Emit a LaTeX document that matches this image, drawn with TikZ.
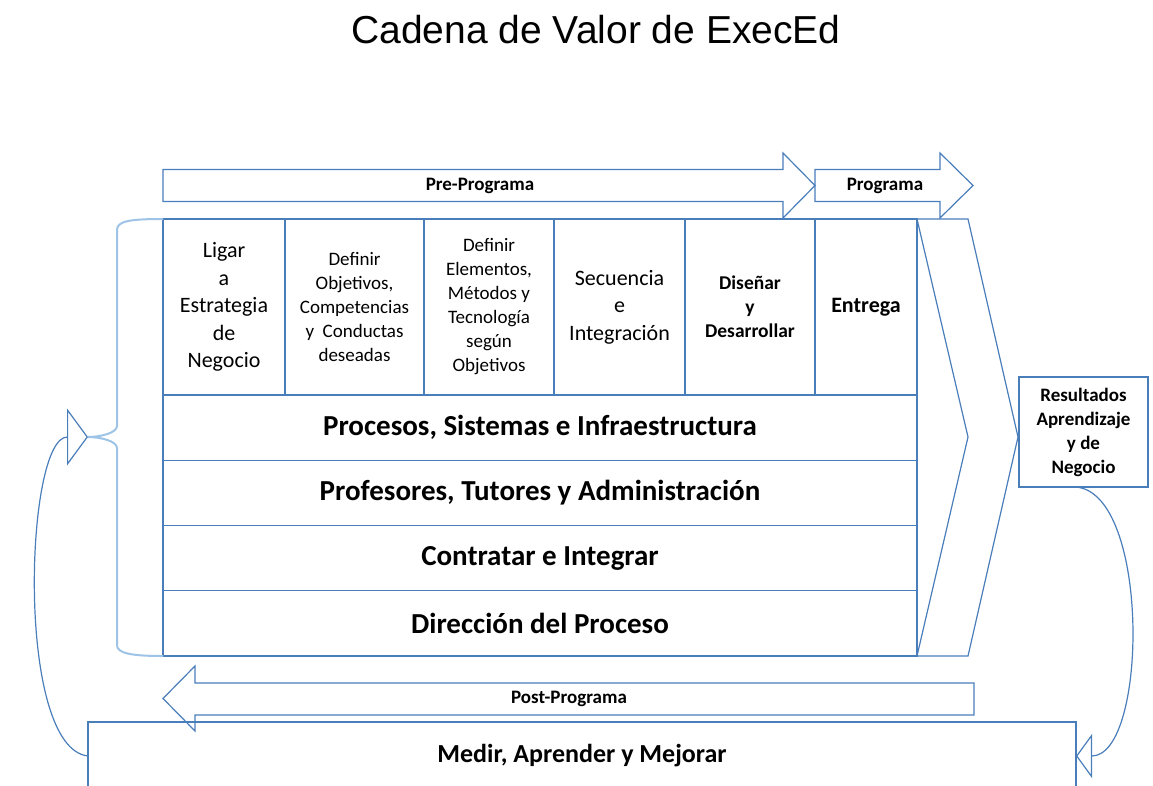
\documentclass[tikz,border=0pt]{standalone}
\usepackage{fontspec}
\setmainfont{Carlito}
\newfontfamily\titlefont{Liberation Sans}
\usetikzlibrary{positioning,arrows.meta}
\definecolor{edgeblue}{HTML}{4A7EBB}
\definecolor{braceblue}{HTML}{9DC3E6}

\begin{document}
\begin{tikzpicture}[x=1pt,y=-1pt,line join=miter,
  every node/.style={inner sep=0pt,outer sep=0pt,align=center},
  cell/.style={draw=edgeblue,line width=1.2pt,minimum height=176pt,anchor=north west},
  band/.style={draw=edgeblue,line width=1.2pt,minimum width=754pt,minimum height=65.25pt,
    font=\bfseries\fontsize{29}{34}\selectfont},
  bigtxt/.style={font=\fontsize{22}{27.5}\selectfont},
  smalltxt/.style={font=\fontsize{19}{24}\selectfont},
  boldtxt/.style={font=\bfseries\fontsize{19.5}{24}\selectfont},
  arrlabel/.style={font=\bfseries\fontsize{19}{23}\selectfont},
  blockarrow/.style={draw=edgeblue,line width=1.2pt},
  frame/.style={draw=edgeblue,line width=1.8pt},
  feedback/.style={draw=edgeblue,line width=1.2pt}]
  \useasboundingbox (0,0) rectangle (1153,785);
  \clip (0,0) rectangle (1153,785);

  % title
  \node[font=\titlefont\fontsize{39}{47}\selectfont] (title) at (596,30) {Cadena de Valor de ExecEd};

  % phase arrows
  \draw[blockarrow] (163,169.5) -- (783,169.5) -- (783,153) -- (815,185.5) -- (783,218)
    -- (783,201.5) -- (163,201.5) -- cycle;
  \draw[blockarrow] (815,169.5) -- (940,169.5) -- (940,153) -- (973,185.5) -- (940,218)
    -- (940,201.5) -- (815,201.5) -- cycle;
  \draw[blockarrow] (974,683) -- (195,683) -- (195,666) -- (163,698.5) -- (195,731)
    -- (195,715) -- (974,715) -- cycle;
  \node[arrlabel] (pre) at (480,185.5) {Pre-Programa};
  \node[arrlabel] (prog) at (885,185.5) {Programa};
  \node[arrlabel] (post) at (569,698.5) {Post-Programa};

  % header cells
  \node[cell,minimum width=122pt,bigtxt] (c1) at (163,219) {Ligar\\a\\Estrategia\\de\\Negocio};
  \node[cell,minimum width=139pt,smalltxt,right=0pt of c1] (c2)
    {Definir\\Objetivos,\\Competencias\\y~ Conductas\\deseadas};
  \node[cell,minimum width=130pt,smalltxt,right=0pt of c2] (c3)
    {Definir\\Elementos,\\Métodos y\\Tecnología\\según\\Objetivos};
  \node[cell,minimum width=131pt,bigtxt,right=0pt of c3] (c4) {Secuencia\\e\\Integración};
  \node[cell,minimum width=130pt,boldtxt,right=0pt of c4] (c5) {Diseñar\\y\\Desarrollar};
  \node[cell,minimum width=102pt,font=\bfseries\fontsize{22}{27}\selectfont,right=0pt of c5] (c6) {Entrega};

  % support rows
  \node[band,anchor=north west] (r1) at (c1.south west) {Procesos, Sistemas e Infraestructura};
  \node[band,below=0pt of r1] (r2) {Profesores, Tutores y Administración};
  \node[band,below=0pt of r2] (r3) {Contratar e Integrar};
  \node[band,below=0pt of r3] (r4) {Dirección del Proceso};
  \draw[frame] (c1.north west) rectangle (r4.south east);
  \draw[frame] (c1.south west) -- (c6.south east);

  % chevron
  \draw[blockarrow] (c6.north east) -- (968,219) -- (1018,437) -- (968,656)
    -- (r4.south east) -- (968,437) -- cycle;

  % results and post programme
  \node[draw=edgeblue,line width=1.2pt,minimum width=129pt,minimum height=110pt,
    font=\bfseries\fontsize{19}{24}\selectfont] (res) at (1083.5,432)
    {Resultados\\Aprendizaje\\y de\\Negocio};
  \node[draw=edgeblue,line width=1.2pt,minimum width=988pt,minimum height=68pt,
    font=\bfseries\fontsize{26}{31}\selectfont] (medir) at (582,756) {Medir, Aprender y Mejorar};

  % brace
  \coordinate (tip) at (88,437);
  \draw[braceblue,line width=2pt] (c1.north west) .. controls (130,219) and (117,221) .. (117,230)
    -- (117,426) .. controls (117,433) and (100,437) .. (tip)
    .. controls (100,437) and (117,441) .. (117,448)
    -- (117,645) .. controls (117,653) and (130,656) .. (r4.south west);

  % feedback loops
  \draw[feedback,-{Triangle[open,length=21pt,width=57pt]}] (medir.west)
    .. controls (15,748) and (25,437) .. (tip);
  \draw[feedback,-{Triangle[open,length=16pt,width=44pt]}] ([xshift=-8pt]res.south)
    .. controls +(75,5) and +(72,0) .. (medir.east);
\end{tikzpicture}
\end{document}
